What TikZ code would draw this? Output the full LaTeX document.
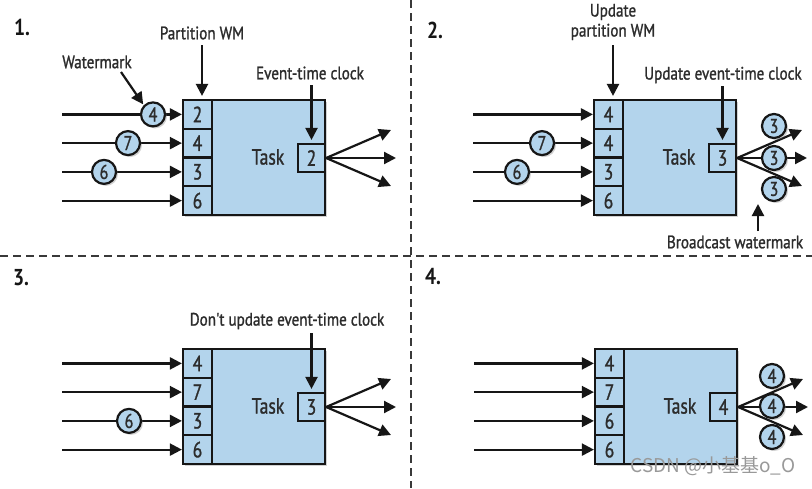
\documentclass[tikz,border=0pt]{standalone}
\usepackage{fontspec}
\setmainfont[FakeStretch=0.85]{PT Sans}
\newfontfamily\lblfont[FakeStretch=0.84,FakeBold=1.2]{PT Sans}
\newfontfamily\digfont[FakeStretch=0.8,FakeBold=1.2]{PT Sans}
\newfontfamily\cjkfont{Noto Sans CJK SC}
\usetikzlibrary{arrows.meta,shadows}
\definecolor{boxblue}{HTML}{B3D4EC}
\definecolor{ink}{HTML}{161616}
\definecolor{txt}{HTML}{2C2C2C}
\tikzset{
  shad/.style={drop shadow={opacity=0.35, shadow xshift=2pt, shadow yshift=-2pt}},
  taskbox/.style={draw=ink, line width=2.2pt, fill=boxblue, minimum width=142pt, minimum height=115pt, inner sep=0pt, shad},
  cell/.style={draw=ink, line width=2.2pt, fill=boxblue, minimum width=29pt, minimum height=28.75pt, inner sep=0pt, text=txt, font=\digfont\fontsize{22}{22}\selectfont},
  clockbox/.style={cell, minimum width=27pt, minimum height=28pt},
  wm/.style={circle, draw=ink, line width=2.2pt, fill=boxblue, minimum size=24pt, inner sep=0pt, text=txt, font=\digfont\fontsize{20}{20}\selectfont, shad},
  arr/.style={draw=ink, line width=2.2pt, -{Triangle[length=12pt,width=12pt]}},
  lbl/.style={text=txt, font=\lblfont\fontsize{18}{20}\selectfont, inner sep=0pt, align=center},
  tasklbl/.style={text=txt, font=\digfont\fontsize{22}{22}\selectfont, inner sep=0pt},
  num/.style={text=ink, font=\fontsize{23}{23}\selectfont\bfseries, inner sep=0pt},
  divider/.style={draw=ink!85, line width=2pt, dash pattern=on 8pt off 5pt},
}
\newcommand{\TaskPanel}[6]{%
  \node[taskbox] (#1task) at (254,157.5) {};
  \node[tasklbl] (#1tl) at (268,157) {Task};
  \node[cell] (#1c1) at (197.5,114.4) {#2};
  \node[cell] (#1c2) at (197.5,143.1) {#3};
  \node[cell] (#1c3) at (197.5,171.9) {#4};
  \node[cell] (#1c4) at (197.5,200.6) {#5};
  \node[clockbox] (#1clk) at (311.5,158) {#6};
  \coordinate (#1i1) at (62,114.4);
  \coordinate (#1i2) at (62,143.1);
  \coordinate (#1i3) at (62,171.9);
  \coordinate (#1i4) at (62,200.6);
  \foreach \k in {1,...,4}{\draw[arr] (#1i\k) -- (#1c\k.west);}
  \coordinate (#1o1) at (391,130);
  \coordinate (#1o2) at (396,158);
  \coordinate (#1o3) at (391,186);
  \foreach \k in {1,2,3}{\draw[arr] (#1clk.east) -- (#1o\k);}
}
\begin{document}
\begin{tikzpicture}[x=1pt,y=-1pt]
\useasboundingbox (0,0) rectangle (812,488);
\fill[white] (0,0) rectangle (812,488);
% dividers
\draw[divider] (0,256) -- (812,256);
\draw[divider] (411,0) -- (411,488);
% panel numbers
\node[num] (n1) at (22,27) {1.};
\node[num] (n2) at (435,30) {2.};
\node[num] (n3) at (21,278) {3.};
\node[num] (n4) at (433,277) {4.};
% panel 1
\begin{scope}
  \TaskPanel{p1}{2}{4}{3}{6}{2}
  \node[wm] (p1w1) at (153,114.4) {4};
  \node[wm] (p1w2) at (128,143.1) {7};
  \node[wm] (p1w3) at (104,171.9) {6};
  \node[lbl] (p1wml) at (97,62) {Watermark};
  \coordinate (p1wa) at (121,72);
  \draw[arr, shorten >=1pt] (p1wa) -- (p1w1.north west);
  \node[lbl] (p1pl) at (202,33) {Partition WM};
  \coordinate (p1pa) at (202,45);
  \draw[arr, shorten >=3pt] (p1pa) -- (p1pa |- p1c1.north);
  \node[lbl] (p1el) at (310,73) {Event-time clock};
  \coordinate (p1ea) at (311.5,85);
  \draw[arr, shorten >=3pt] (p1ea) -- (p1clk.north);
\end{scope}
% panel 2
\begin{scope}[shift={(411,0)}]
  \TaskPanel{p2}{4}{4}{3}{6}{3}
  \node[wm] (p2w2) at (131,143.1) {7};
  \node[wm] (p2w3) at (106,171.9) {6};
  \node[wm] (p2b1) at (363,126) {3};
  \node[wm] (p2b2) at (363,158) {3};
  \node[wm] (p2b3) at (363,189) {3};
  \node[lbl] (p2pl) at (202,22) {Update\\partition WM};
  \coordinate (p2pa) at (202,45);
  \draw[arr, shorten >=3pt] (p2pa) -- (p2pa |- p2c1.north);
  \node[lbl] (p2el) at (312,75) {Update event-time clock};
  \coordinate (p2ea) at (311.5,86);
  \draw[arr, shorten >=3pt] (p2ea) -- (p2clk.north);
  \node[lbl] (p2bl) at (324,242) {Broadcast watermark};
  \coordinate (p2ba) at (347,231);
  \draw[arr] (p2ba) -- (347,204);
\end{scope}
% panel 3
\begin{scope}[shift={(0,249)}]
  \TaskPanel{p3}{4}{7}{3}{6}{3}
  \node[wm] (p3w3) at (129,171.9) {6};
  \node[lbl] (p3el) at (287,72) {Don't update event-time clock};
  \coordinate (p3ea) at (311.5,84);
  \draw[arr, shorten >=3pt] (p3ea) -- (p3clk.north);
\end{scope}
% panel 4
\begin{scope}[shift={(412,249)}]
  \TaskPanel{p4}{4}{7}{6}{6}{4}
  \node[wm] (p4b1) at (360,127) {4};
  \node[wm] (p4b2) at (360,157) {4};
  \node[wm] (p4b3) at (360,188) {4};
\end{scope}
% watermark
\node[text=black!40, font=\cjkfont\fontsize{19}{19}\selectfont, inner sep=0pt] (csdn) at (713,466) {CSDN @小基基o\_O};
\end{tikzpicture}
\end{document}
